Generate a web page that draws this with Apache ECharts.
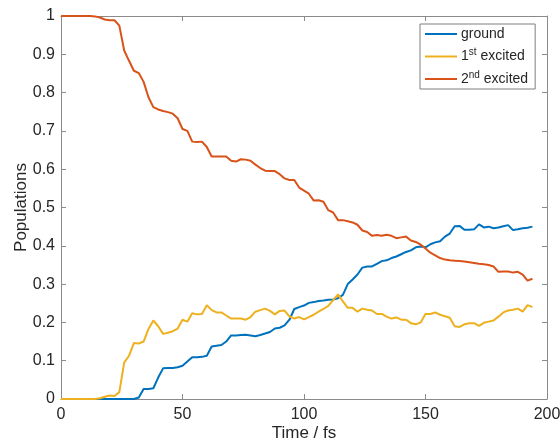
<!DOCTYPE html>
<html>
<head>
<meta charset="utf-8">
<script src="https://cdn.jsdelivr.net/npm/echarts@6/dist/echarts.min.js"></script>
<style>html,body{margin:0;padding:0;background:#fff}#c{width:560px;height:442px}</style>
</head>
<body>
<div id="c"></div>
<script>
var time = [0,2,4,6,8,10,12,14,16,18,20,22,24,26,28,30,32,34,36,38,40,42,44,46,48,50,52,54,56,58,60,62,64,66,68,70,72,74,76,78,80,82,84,86,88,90,92,94,96,98,100,102,104,106,108,110,112,114,116,118,120,122,124,126,128,130,132,134,136,138,140,142,144,146,148,150,152,154,156,158,160,162,164,166,168,170,172,174,176,178,180,182,184,186,188,190,192,194];
var seriesNames = ['ground', '1st excited', '2nd excited'];
var ground = [
0,0,0,0,0,0,0,0,0,0,
0,0,0,0,0,0,0.004,0.026,0.026,0.028,
0.056,0.080,0.081,0.081,0.083,0.087,0.098,0.109,0.109,0.110,
0.113,0.137,0.139,0.141,0.150,0.166,0.166,0.167,0.168,0.166,
0.164,0.167,0.171,0.175,0.184,0.186,0.192,0.207,0.235,0.240,
0.244,0.251,0.253,0.256,0.257,0.259,0.260,0.263,0.272,0.300,
0.312,0.325,0.343,0.346,0.346,0.353,0.360,0.362,0.368,0.372,
0.378,0.384,0.388,0.396,0.398,0.396,0.404,0.409,0.412,0.424,
0.432,0.451,0.452,0.442,0.442,0.443,0.456,0.448,0.450,0.446,
0.448,0.451,0.454,0.441,0.443,0.446,0.447,0.450];
var first = [
0,0,0,0,0,0,0,0,0.002,0.006,
0.009,0.008,0.018,0.095,0.113,0.146,0.145,0.150,0.183,0.205,
0.190,0.170,0.173,0.177,0.184,0.207,0.202,0.224,0.221,0.222,
0.245,0.232,0.226,0.226,0.218,0.210,0.210,0.210,0.207,0.214,
0.228,0.232,0.236,0.230,0.221,0.230,0.231,0.216,0.210,0.214,
0.208,0.214,0.220,0.228,0.235,0.243,0.258,0.273,0.255,0.238,
0.238,0.228,0.236,0.233,0.231,0.222,0.222,0.215,0.210,0.213,
0.207,0.207,0.198,0.195,0.200,0.222,0.222,0.226,0.220,0.216,
0.212,0.190,0.188,0.195,0.198,0.198,0.191,0.199,0.202,0.205,
0.215,0.226,0.231,0.233,0.236,0.228,0.245,0.240];
var second = [
1,1,1,1,1,1,1,0.999,0.996,0.991,
0.989,0.989,0.975,0.910,0.883,0.857,0.851,0.828,0.788,0.762,
0.756,0.752,0.749,0.745,0.733,0.705,0.700,0.672,0.671,0.672,
0.658,0.633,0.633,0.633,0.633,0.622,0.620,0.626,0.625,0.622,
0.612,0.603,0.596,0.595,0.595,0.587,0.576,0.572,0.572,0.552,
0.544,0.536,0.518,0.519,0.515,0.493,0.487,0.467,0.467,0.464,
0.461,0.455,0.440,0.436,0.426,0.428,0.426,0.429,0.426,0.420,
0.422,0.424,0.414,0.410,0.403,0.393,0.382,0.375,0.368,0.364,
0.362,0.361,0.360,0.359,0.357,0.355,0.353,0.352,0.350,0.346,
0.332,0.333,0.333,0.330,0.332,0.325,0.309,0.314];
var colors = ['#0072BD', '#EDB120', '#D95319'];

function pairs(vals) { return time.map(function (t, i) { return [t, vals[i]]; }); }

var FONT = '"Liberation Sans", Arial, sans-serif';
var AX = '#262626';
var LINE = '#8a8a8a';

var chart = echarts.init(document.getElementById('c'), null, {renderer: 'canvas'});
function mkX(pos, show) {
  return {
    type: 'value', position: pos, min: 0, max: 200, interval: 50,
    name: show ? 'Time / fs' : '', nameLocation: 'middle', nameGap: 26, nameMoveOverlap: false,
    nameTextStyle: {fontFamily: FONT, fontSize: 17, color: AX},
    axisLine: {show: true, onZero: false, lineStyle: {color: LINE, width: 1}},
    axisTick: {show: true, inside: true, length: 5, lineStyle: {color: LINE}},
    axisLabel: {show: show, margin: 8, fontFamily: FONT, fontSize: 16, color: AX},
    splitLine: {show: false}
  };
}
function mkY(pos, show) {
  return {
    type: 'value', position: pos, min: 0, max: 1, interval: 0.1,
    name: show ? 'Populations' : '', nameLocation: 'middle', nameGap: 31, nameMoveOverlap: false,
    nameTextStyle: {fontFamily: FONT, fontSize: 17, color: AX},
    axisLine: {show: true, onZero: false, lineStyle: {color: LINE, width: 1}},
    axisTick: {show: true, inside: true, length: 5, lineStyle: {color: LINE}},
    axisLabel: {show: show, margin: 6, fontFamily: FONT, fontSize: 16, color: AX},
    splitLine: {show: false}
  };
}
var data = [ground, first, second];
chart.setOption({
  animation: false,
  backgroundColor: '#fff',
  grid: {left: 61, top: 16, right: 13, bottom: 43, containLabel: false, outerBoundsMode: 'none'},
  xAxis: [mkX('bottom', true), mkX('top', false)],
  yAxis: [mkY('left', true), mkY('right', false)],
  legend: {
    orient: 'vertical', left: 420, top: 24,
    padding: [1, 7, 1, 5], itemGap: 4.5, itemWidth: 32, itemHeight: 2,
    icon: 'rect',
    borderColor: '#7f7f7f', borderWidth: 1, backgroundColor: '#fff', borderRadius: 0,
    data: seriesNames,
    formatter: function (name) {
      if (name === '1st excited') return '{n|1}{s|st}{n| excited}';
      if (name === '2nd excited') return '{n|2}{s|nd}{n| excited}';
      return '{n|' + name + '}{s| }';
    },
    textStyle: {
      fontFamily: FONT, fontSize: 14, color: AX, padding: [0, 0, 0, -1],
      rich: {
        n: {fontFamily: FONT, fontSize: 14, color: AX, lineHeight: 20},
        s: {fontFamily: FONT, fontSize: 10, color: AX, lineHeight: 12, padding: [0, 0, 8, 0]}
      }
    }
  },
  series: seriesNames.map(function (nm, i) {
    return {
      name: nm, type: 'line', xAxisIndex: 0, yAxisIndex: 0,
      data: pairs(data[i]), symbol: 'none', showSymbol: false, smooth: false,
      color: colors[i], lineStyle: {color: colors[i], width: 2}
    };
  })
});
</script>
</body>
</html>
